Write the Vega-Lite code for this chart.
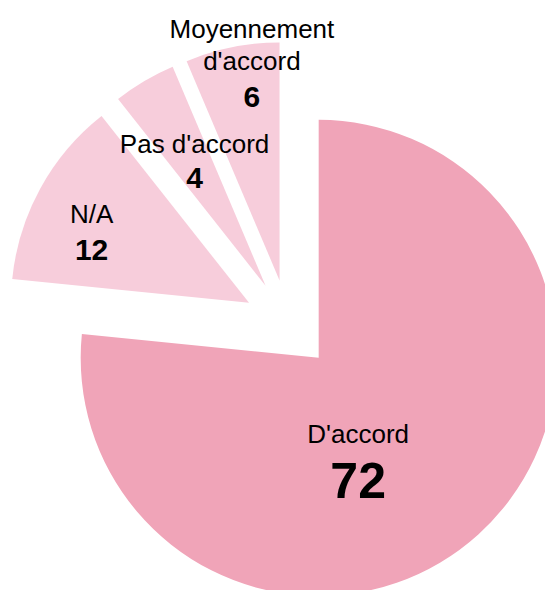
{
  "$schema": "https://vega.github.io/schema/vega-lite/v6.json",
  "width": 545,
  "height": 590,
  "autosize": {"type": "none"},
  "padding": 0,
  "background": "white",
  "config": {"view": {"stroke": null}, "text": {"font": "Liberation Sans", "color": "#000000"}},
  "data": {
    "values": [
      {"cat": "D'accord", "name": "D'accord", "value": 72},
      {"cat": "N/A", "name": "N/A", "value": 12},
      {"cat": "Pas d'accord", "name": "Pas d'accord", "value": 4},
      {"cat": "Moyennement d'accord", "name": "Moyennement\nd'accord", "value": 6}
    ]
  },
  "transform": [
    {"joinaggregate": [{"op": "sum", "field": "value", "as": "total"}]},
    {"window": [{"op": "sum", "field": "value", "as": "cum"}], "frame": [null, 0]},
    {"calculate": "(datum.cum - datum.value) / datum.total", "as": "f0"},
    {"calculate": "datum.cum / datum.total", "as": "f1"},
    {"calculate": "(datum.f0 + datum.f1) / 2", "as": "fm"},
    {"calculate": "sin(2 * PI * datum.fm)", "as": "ex"},
    {"calculate": "cos(2 * PI * datum.fm)", "as": "ey"}
  ],
  "encoding": {
    "x": {"field": "ex", "type": "quantitative", "scale": {"domain": [-6.411, 5.7], "nice": false, "zero": false}, "axis": null},
    "y": {"field": "ey", "type": "quantitative", "scale": {"domain": [-5.9, 7.211], "nice": false, "zero": false}, "axis": null}
  },
  "layer": [
    {
      "mark": {"type": "arc", "radius": 238},
      "encoding": {
        "theta": {"field": "f0", "type": "quantitative", "scale": {"domain": [0, 1]}, "stack": null},
        "theta2": {"field": "f1"},
        "color": {"field": "cat", "type": "nominal", "legend": null,
          "scale": {"domain": ["D'accord", "N/A", "Pas d'accord", "Moyennement d'accord"],
                    "range": ["#F0A4B8", "#F7CDDB", "#F7CDDB", "#F7CDDB"]}}
      }
    },
    {
      "transform": [{"filter": "datum.cat === \"D'accord\""}],
      "mark": {"type": "text", "radius": 94, "thetaOffset": 0.302, "fontSize": 26, "align": "center", "baseline": "alphabetic"},
      "encoding": {"theta": {"field": "fm", "type": "quantitative", "stack": null}, "text": {"field": "name"}}
    },
    {
      "transform": [{"filter": "datum.cat === \"D'accord\""}],
      "mark": {"type": "text", "radius": 94, "thetaOffset": 0.302, "dy": 55, "fontSize": 50, "fontWeight": "bold", "align": "center", "baseline": "alphabetic"},
      "encoding": {"theta": {"field": "fm", "type": "quantitative", "stack": null}, "text": {"field": "value"}}
    },
    {
      "transform": [{"filter": "datum.cat === 'N/A'"}],
      "mark": {"type": "text", "radius": 176.6, "thetaOffset": -0.031, "fontSize": 26, "align": "center", "baseline": "alphabetic"},
      "encoding": {"theta": {"field": "fm", "type": "quantitative", "stack": null}, "text": {"field": "name"}}
    },
    {
      "transform": [{"filter": "datum.cat === 'N/A'"}],
      "mark": {"type": "text", "radius": 176.6, "thetaOffset": -0.031, "dy": 37, "fontSize": 30, "fontWeight": "bold", "align": "center", "baseline": "alphabetic"},
      "encoding": {"theta": {"field": "fm", "type": "quantitative", "stack": null}, "text": {"field": "value"}}
    },
    {
      "transform": [{"filter": "datum.cat === \"Pas d'accord\""}],
      "mark": {"type": "text", "radius": 150.6, "thetaOffset": 0.044, "fontSize": 26, "align": "center", "baseline": "alphabetic"},
      "encoding": {"theta": {"field": "fm", "type": "quantitative", "stack": null}, "text": {"field": "name"}}
    },
    {
      "transform": [{"filter": "datum.cat === \"Pas d'accord\""}],
      "mark": {"type": "text", "radius": 150.6, "thetaOffset": 0.044, "dy": 35, "fontSize": 30, "fontWeight": "bold", "align": "center", "baseline": "alphabetic"},
      "encoding": {"theta": {"field": "fm", "type": "quantitative", "stack": null}, "text": {"field": "value"}}
    },
    {
      "transform": [{"filter": "datum.cat === \"Moyennement d'accord\""}],
      "mark": {"type": "text", "radius": 244, "thetaOffset": 0.087, "fontSize": 26, "lineHeight": 32, "lineBreak": "\n", "align": "center", "baseline": "alphabetic"},
      "encoding": {"theta": {"field": "fm", "type": "quantitative", "stack": null}, "text": {"field": "name"}}
    },
    {
      "transform": [{"filter": "datum.cat === \"Moyennement d'accord\""}],
      "mark": {"type": "text", "radius": 244, "thetaOffset": 0.087, "dy": 69, "fontSize": 30, "fontWeight": "bold", "align": "center", "baseline": "alphabetic"},
      "encoding": {"theta": {"field": "fm", "type": "quantitative", "stack": null}, "text": {"field": "value"}}
    }
  ]
}
